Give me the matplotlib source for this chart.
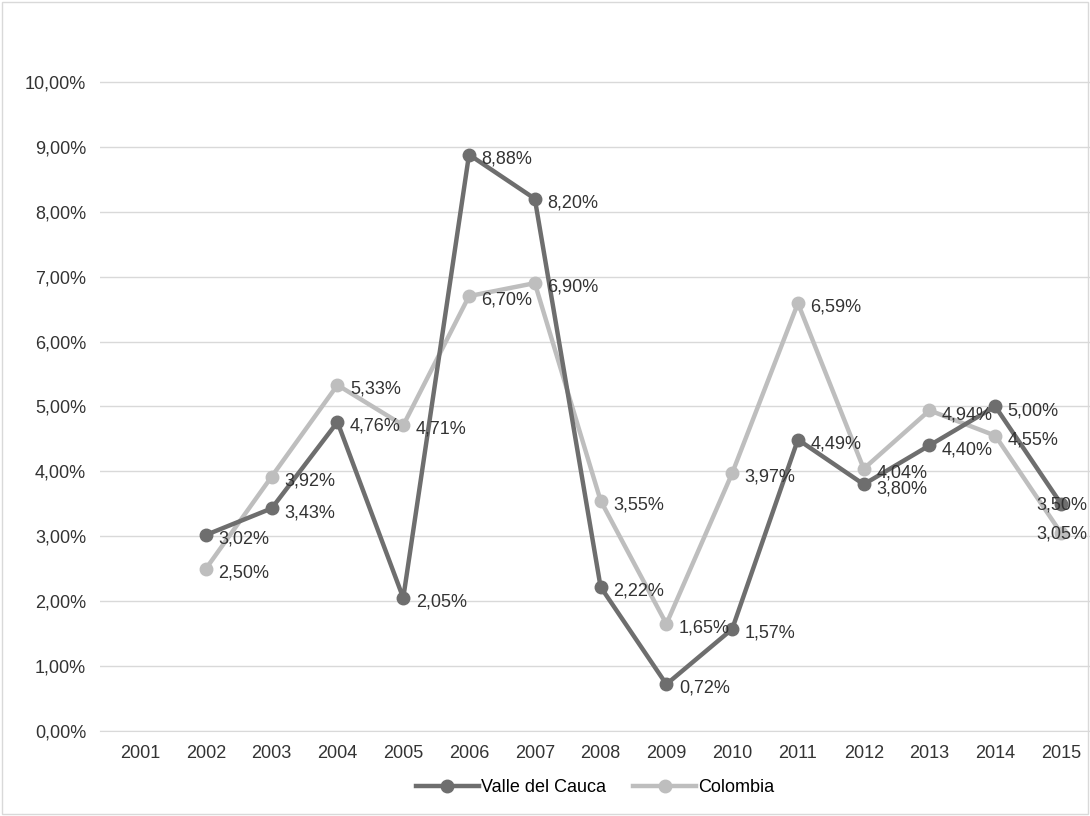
import matplotlib.pyplot as plt
from matplotlib.ticker import FuncFormatter

years = ['2001', '2002', '2003', '2004', '2005', '2006', '2007', '2008',
         '2009', '2010', '2011', '2012', '2013', '2014', '2015']
valle = [3.02, 3.43, 4.76, 2.05, 8.88, 8.20, 2.22, 0.72, 1.57, 4.49, 3.80, 4.40, 5.00, 3.50]
colombia = [2.50, 3.92, 5.33, 4.71, 6.70, 6.90, 3.55, 1.65, 3.97, 6.59, 4.04, 4.94, 4.55, 3.05]

plt.rcParams['font.family'] = ['Liberation Sans', 'DejaVu Sans']
fig = plt.figure(figsize=(10.9, 8.16), dpi=100)
ax = fig.add_axes([100 / 1090, 85 / 816, 990 / 1090, 714 / 816])

x = list(range(1, len(years)))
ax.plot(x, [v / 100 for v in valle], color='#6e6e6e', lw=3.2, marker='o', ms=9,
        label='Valle del Cauca', zorder=3)
ax.plot(x, [v / 100 for v in colombia], color='#bebebe', lw=3.2, marker='o', ms=9,
        label='Colombia', zorder=2)

# data labels; the last ones are pushed back inside the figure
for series in (valle, colombia):
    for xi, v in zip(x, series):
        last = xi == x[-1]
        ax.annotate(f'{v:.2f}%'.replace('.', ','), (xi, v / 100),
                    xytext=(19 if last else 9, -1 if last else -3),
                    textcoords='offset points', ha='right' if last else 'left',
                    va='center', fontsize=13, color='#333333', zorder=4)

ax.set_xticks(range(len(years)))
ax.set_xticklabels(years)
ax.set_xlim(-0.61, 14.44)
ax.set_ylim(0, 0.11)
ax.set_yticks([i / 100 for i in range(11)])
ax.yaxis.set_major_formatter(FuncFormatter(lambda v, p: f'{v * 100:.2f}%'.replace('.', ',')))
ax.grid(axis='y', color='#d9d9d9', lw=1)
ax.set_axisbelow(True)
for s in ['top', 'right', 'left']:
    ax.spines[s].set_visible(False)
ax.spines['bottom'].set_color('#d9d9d9')
ax.tick_params(length=0, labelsize=13, colors='#333333', pad=10)

ax.legend(loc='upper center', bbox_to_anchor=(0.5, -0.045), ncol=2, frameon=False,
          fontsize=13, handlelength=3.5, columnspacing=1.5, handletextpad=0.1)

fig.patches.append(plt.Rectangle((0.002, 0.002), 0.996, 0.996, transform=fig.transFigure,
                                 fill=False, edgecolor='#d9d9d9', lw=1))
fig.savefig('out.png', dpi=100)
